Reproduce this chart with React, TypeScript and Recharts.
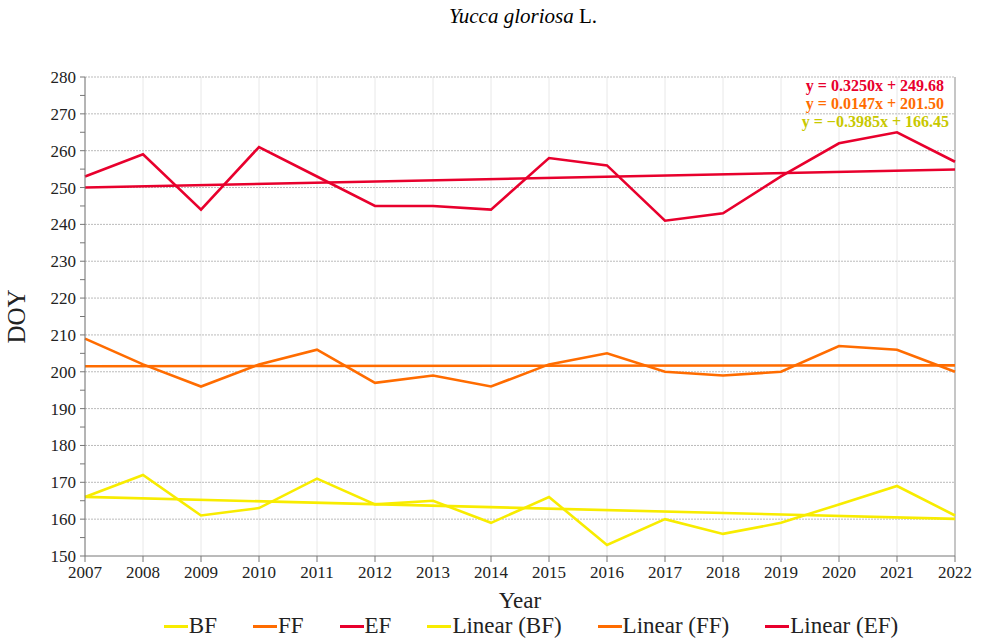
import { CartesianGrid, Customized, Line, LineChart, ReferenceLine, XAxis, YAxis } from "recharts";

const years = [2007, 2008, 2009, 2010, 2011, 2012, 2013, 2014, 2015, 2016, 2017, 2018, 2019, 2020, 2021, 2022]
const bf = [166, 172, 161, 163, 171, 164, 165, 159, 166, 153, 160, 156, 159, 164, 169, 161]
const ff = [209, 202, 196, 202, 206, 197, 199, 196, 202, 205, 200, 199, 200, 207, 206, 200]
const ef = [253, 259, 244, 261, 253, 245, 245, 244, 258, 256, 241, 243, 253, 262, 265, 257]
// trend lines: only the two ends
const bfTrend = [166.05, null, null, null, null, null, null, null, null, null, null, null, null, null, null, 160.07]
const ffTrend = [201.51, null, null, null, null, null, null, null, null, null, null, null, null, null, null, 201.74]
const efTrend = [250.0, null, null, null, null, null, null, null, null, null, null, null, null, null, null, 254.88]
const yTicks = [150, 155, 160, 165, 170, 175, 180, 185, 190, 195, 200, 205, 210, 215, 220, 225, 230, 235, 240, 245, 250, 255, 260, 265, 270, 275, 280]
const gridLines = [160, 170, 180, 190, 200, 210, 220, 230, 240, 250, 260, 270, 280]
const equations = ["y = 0.3250x + 249.68", "y = 0.0147x + 201.50", "y = −0.3985x + 166.45"]

const YELLOW = "#f8ec00"
const ORANGE = "#ff6c00"
const RED = "#e8002d"

const series = [
    { key: "bf", name: "BF", color: YELLOW },
    { key: "ff", name: "FF", color: ORANGE },
    { key: "ef", name: "EF", color: RED },
    { key: "bfTrend", name: "Linear (BF)", color: YELLOW },
    { key: "ffTrend", name: "Linear (FF)", color: ORANGE },
    { key: "efTrend", name: "Linear (EF)", color: RED },
]

const data = years.map((year, i) => ({
    year, bf: bf[i], ff: ff[i], ef: ef[i], bfTrend: bfTrend[i], ffTrend: ffTrend[i], efTrend: efTrend[i]
}))

const FONT = "'Liberation Serif', 'DejaVu Serif', serif"

const YTick = ({ x, y, payload }: any) =>
    <g>
        <line x1={x + 3} x2={x + 8} y1={y} y2={y} stroke="#777" />
        {payload.value % 10 === 0 &&
            <text x={x - 1} y={y} dy={6} textAnchor="end" fontSize={17} fill="#222" fontFamily={FONT}>{payload.value}</text>}
    </g>

const Equations = () =>
    <g fontFamily={FONT} fontWeight="bold" fontSize={16} textAnchor="end">
        <text x={944} y={91} fill={RED}>{equations[0]}</text>
        <text x={944} y={109} fill={ORANGE}>{equations[1]}</text>
        <text x={949} y={127} fill="#c8c800">{equations[2]}</text>
    </g>

export default function App() {
    return (
        <div style={{ position: "absolute", left: 0, top: 0, width: 982, height: 641, background: "#fff", fontFamily: FONT }}>
            <div style={{ position: "absolute", top: 4, width: 982, textAlign: "center", fontSize: 21, marginLeft: 32 }}>
                <i>Yucca gloriosa</i> L.
            </div>
            <LineChart width={982} height={641} data={data} margin={{ top: 77, right: 27, left: 0, bottom: 45 }}>
                <CartesianGrid horizontal={false} stroke="#e8e8e8" />
                {gridLines.map(v => <ReferenceLine key={v} y={v} stroke="#bbb" strokeDasharray="2 1" />)}
                <ReferenceLine x={2022} stroke="#999" />
                <XAxis dataKey="year" stroke="#777" tickSize={6} tickMargin={4} height={40}
                    tick={{ fontSize: 17, fill: "#222", fontFamily: FONT }}
                    label={{ value: "Year", position: "insideBottom", offset: -12, fontSize: 23, fill: "#222", fontFamily: FONT }} />
                <YAxis domain={[150, 280]} ticks={yTicks} interval={0} width={85} stroke="#777" tickLine={false}
                    tick={<YTick />}
                    label={{ value: "DOY", angle: -90, position: "insideLeft", offset: 16, fontSize: 25, fill: "#222", fontFamily: FONT, style: { textAnchor: "middle" } }} />
                {series.map(s =>
                    <Line key={s.key} dataKey={s.key} name={s.name} stroke={s.color} strokeWidth={2.6}
                        dot={false} connectNulls isAnimationActive={false} type="linear" />)}
                <Customized component={Equations} />
            </LineChart>
            <div style={{ position: "absolute", top: 613, left: 0, width: 982, display: "flex", justifyContent: "center", gap: 36, fontSize: 23, color: "#222", paddingLeft: 80, boxSizing: "border-box" }}>
                {series.map(s =>
                    <div key={s.key} style={{ display: "flex", alignItems: "center" }}>
                        <span style={{ display: "inline-block", width: 24, height: 3, background: s.color, marginRight: 1 }} />
                        <span>{s.name}</span>
                    </div>)}
            </div>
        </div>
    )
}
